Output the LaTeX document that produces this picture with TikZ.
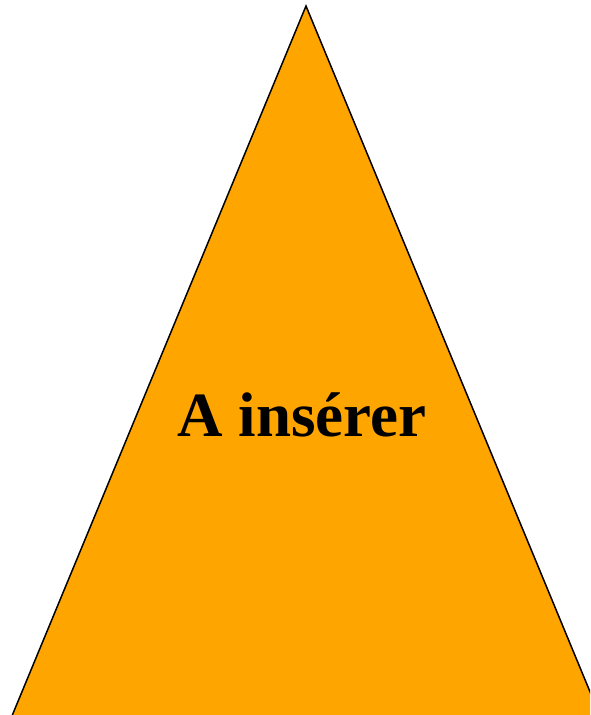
\documentclass[tikz,border=0pt]{standalone}
\usepackage{fontspec}
\setmainfont{Liberation Serif}
\definecolor{tri}{HTML}{FFA500}
\begin{document}
\begin{tikzpicture}[x=1pt,y=-1pt]
\useasboundingbox (0,0) rectangle (590,715);
\clip (0,0) rectangle (590,715);
\draw[fill=tri,line width=1.5pt,line join=miter] (306,6) -- (610,740) -- (2,740) -- cycle;
\node[anchor=base,font=\bfseries\fontsize{63}{63}\selectfont,inner sep=0pt] (lbl) at (302,436) {A insérer};
\end{tikzpicture}
\end{document}
